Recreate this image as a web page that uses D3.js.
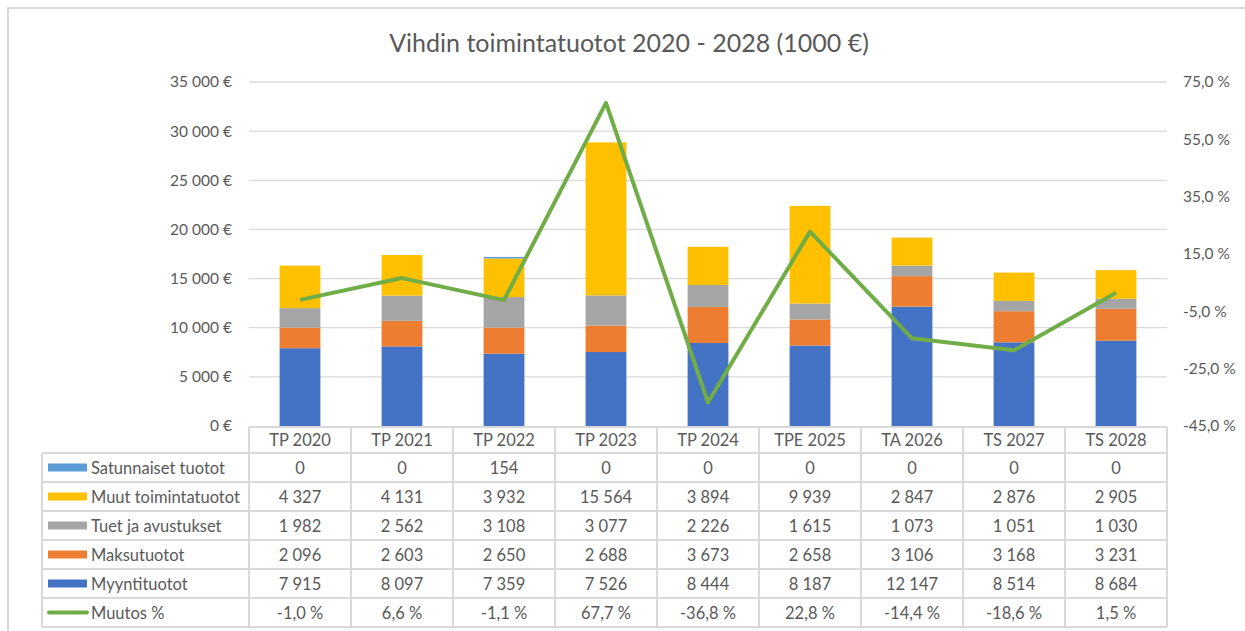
<!DOCTYPE html>
<meta charset="utf-8">
<style>
  body { margin: 0; background: #fff; }
  svg text { font-family: Lato, "Open Sans", sans-serif; fill: #595959; }
</style>
<body>
<svg width="1245" height="631"></svg>
<script src="https://d3js.org/d3.v7.min.js"></script>
<script>

// categories + series (1000 €)
var years = ["TP 2020", "TP 2021", "TP 2022", "TP 2023", "TP 2024", "TPE 2025", "TA 2026", "TS 2027", "TS 2028"];
var satunnaiset = [0, 0, 154, 0, 0, 0, 0, 0, 0];
var muut = [4327, 4131, 3932, 15564, 3894, 9939, 2847, 2876, 2905];
var tuet = [1982, 2562, 3108, 3077, 2226, 1615, 1073, 1051, 1030];
var maksut = [2096, 2603, 2650, 2688, 3673, 2658, 3106, 3168, 3231];
var myynti = [7915, 8097, 7359, 7526, 8444, 8187, 12147, 8514, 8684];
var muutos = [-1.0, 6.6, -1.1, 67.7, -36.8, 22.8, -14.4, -18.6, 1.5];

var leftTicks = [0, 5000, 10000, 15000, 20000, 25000, 30000, 35000];
var rightTicks = [-45, -25, -5, 15, 35, 55, 75];

// stacked from bottom to top
var series = [
  { name: "Myyntituotot", values: myynti, color: "#4472c4" },
  { name: "Maksutuotot", values: maksut, color: "#ed7d31" },
  { name: "Tuet ja avustukset", values: tuet, color: "#a5a5a5" },
  { name: "Muut toimintatuotot", values: muut, color: "#ffc000" },
  { name: "Satunnaiset tuotot", values: satunnaiset, color: "#5b9bd5" }
];
// order of the rows in the data table
var tableRows = [series[4], series[3], series[2], series[1], series[0]];

// finnish number format, plain hyphen as minus like excel
var fi = d3.formatLocale({ decimal: ",", thousands: "\u00a0", grouping: [3], currency: ["", "\u00a0€"], minus: "-" });
var fmtEur = fi.format("$,.0f"),
    fmtNum = fi.format(",.0f"),
    fmtPct = function(v) { return fi.format(".1f")(v) + "\u00a0%"; };

var svg = d3.select("svg");
var grid = "#d9d9d9";
var cellFont = "16.5px";

// chart frame
svg.append("rect")
    .attr("x", 8).attr("y", 8).attr("width", 1260).attr("height", 660)
    .attr("fill", "none").attr("stroke", grid).attr("stroke-width", 2);

var x = d3.scaleBand().domain(years).range([249, 1167]).paddingInner(0).paddingOuter(0);
var y = d3.scaleLinear().domain([0, 35000]).range([426, 82]);
var y2 = d3.scaleLinear().domain([-45, 75]).range([426, 82]);

// title
svg.append("text")
    .attr("x", 629).attr("y", 52)
    .attr("text-anchor", "middle")
    .style("font-size", "25px")
    .text("Vihdin toimintatuotot 2020 - 2028 (1000 €)");

// gridlines
svg.append("g").selectAll("line")
  .data(leftTicks.slice(1))
  .join("line")
    .attr("x1", 249).attr("x2", 1167)
    .attr("y1", function(d) { return y(d); }).attr("y2", function(d) { return y(d); })
    .attr("stroke", grid).attr("stroke-width", 1.3);

// left axis
var leftAxis = svg.append("g")
    .attr("transform", "translate(249,0)")
    .call(d3.axisLeft(y).tickValues(leftTicks).tickFormat(fmtEur).tickSize(0).tickPadding(17));
leftAxis.select(".domain").remove();
leftAxis.selectAll("text").style("font-size", "15.5px").attr("fill", "#595959");

// right axis
var rightAxis = svg.append("g")
    .attr("transform", "translate(1167,0)")
    .call(d3.axisRight(y2).tickValues(rightTicks).tickFormat(fmtPct).tickSize(0).tickPadding(16));
rightAxis.select(".domain").remove();
rightAxis.selectAll("text").style("font-size", "15.5px").attr("fill", "#595959");

// stacked bars
var rows = years.map(function(yr, i) {
  var r = { year: yr };
  series.forEach(function(s) { r[s.name] = s.values[i]; });
  return r;
});
var stacked = d3.stack().keys(series.map(function(s) { return s.name; }))(rows);
var barW = x.bandwidth() * 0.4;

svg.append("g").selectAll("g")
  .data(stacked)
  .join("g")
    .attr("fill", function(d, i) { return series[i].color; })
  .selectAll("rect")
  .data(function(d) { return d; })
  .join("rect")
    .attr("x", function(d) { return x(d.data.year) + (x.bandwidth() - barW) / 2; })
    .attr("width", barW)
    .attr("y", function(d) { return y(d[1]); })
    .attr("height", function(d) { return y(d[0]) - y(d[1]); });

// muutos line
var line = d3.line()
    .x(function(d, i) { return x(years[i]) + x.bandwidth() / 2; })
    .y(function(d) { return y2(d); });
svg.append("path")
    .datum(muutos)
    .attr("d", line)
    .attr("fill", "none")
    .attr("stroke", "#70ad47")
    .attr("stroke-width", 4)
    .attr("stroke-linejoin", "round");

// data table
var headTop = 427, headBot = 453, rowH = 29, legX = 42;
var tableBot = headBot + rowH * 6;
var t = svg.append("g").attr("stroke", grid).attr("stroke-width", 2);

// horizontal lines
t.append("line").attr("x1", 249).attr("x2", 1167).attr("y1", headTop).attr("y2", headTop);
d3.range(7).forEach(function(k) {
  var yy = headBot + k * rowH;
  t.append("line").attr("x1", legX).attr("x2", 1167).attr("y1", yy).attr("y2", yy);
});
// vertical lines
t.append("line").attr("x1", legX).attr("x2", legX).attr("y1", headBot).attr("y2", tableBot);
years.forEach(function(yr) {
  t.append("line").attr("x1", x(yr)).attr("x2", x(yr)).attr("y1", headTop).attr("y2", tableBot);
});
t.append("line").attr("x1", 1167).attr("x2", 1167).attr("y1", headTop).attr("y2", tableBot);

// header
svg.append("g").selectAll("text")
  .data(years)
  .join("text")
    .attr("x", function(d) { return x(d) + x.bandwidth() / 2; })
    .attr("y", headTop + 19)
    .attr("text-anchor", "middle")
    .style("font-size", cellFont)
    .text(function(d) { return d; });

// body rows
var body = tableRows.map(function(s) {
  return { name: s.name, color: s.color, cells: s.values.map(fmtNum), line: false };
});
body.push({ name: "Muutos %", color: "#70ad47", cells: muutos.map(fmtPct), line: true });

body.forEach(function(r, k) {
  var top = headBot + k * rowH, mid = top + rowH / 2;
  if (r.line) {
    svg.append("line")
        .attr("x1", 49).attr("x2", 87).attr("y1", mid).attr("y2", mid)
        .attr("stroke", r.color).attr("stroke-width", 4).attr("stroke-linecap", "round");
  } else {
    svg.append("rect")
        .attr("x", 48).attr("y", mid - 4).attr("width", 39).attr("height", 8)
        .attr("fill", r.color);
  }
  svg.append("text")
      .attr("x", 91).attr("y", mid + 6)
      .style("font-size", cellFont)
      .text(r.name);
  svg.append("g").selectAll("text")
    .data(r.cells)
    .join("text")
      .attr("x", function(d, i) { return x(years[i]) + x.bandwidth() / 2; })
      .attr("y", mid + 6)
      .attr("text-anchor", "middle")
      .style("font-size", cellFont)
      .text(function(d) { return d; });
});

</script>
</body>
